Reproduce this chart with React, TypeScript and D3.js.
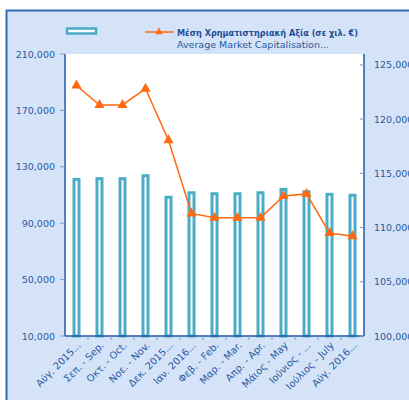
import * as d3 from "d3";
import { useEffect, useRef } from "react";

const categories = [
  "Αύγ. 2015...",
  "Σεπ. - Sep.",
  "Οκτ. - Oct.",
  "Νοε. - Nov.",
  "Δεκ. 2015...",
  "Ιαν. 2016...",
  "Φεβ. - Feb.",
  "Μαρ. - Mar.",
  "Απρ. - Apr.",
  "Μάιος - May",
  "Ιούνιος - ...",
  "Ιούλιος - July",
  "Αύγ. 2016...",
];

// bars, left axis
const barValues = [
  121100, 121600, 121600, 123700, 108400, 111600, 110900, 110900, 111600,
  114000, 112300, 110500, 109800,
];

// line, right axis (thousand €)
const lineValues = [
  123100, 121300, 121300, 122800, 118050, 111300, 110900, 110900, 110900,
  112900, 113100, 109500, 109200,
];

const leftTicks = [10000, 50000, 90000, 130000, 170000, 210000];
const rightTicks = [100000, 105000, 110000, 115000, 120000, 125000];

const FONT = "'DejaVu Sans', Verdana, sans-serif";
const TEXT = "#2a5aa0";
const AXIS = "#1f5aa6";
const BAR = "#4bacc6";
const LINE = "#ff6a10";

const App = () => {
  const svgRef = useRef<SVGSVGElement>(null);

  useEffect(() => {
    const svg = d3.select(svgRef.current);
    svg.selectAll("*").remove();

    const left = 65;
    const right = 364;
    const top = 54;
    const bottom = 336;

    // background + frame
    svg
      .append("rect")
      .attr("x", 6.5)
      .attr("y", 10.5)
      .attr("width", 420)
      .attr("height", 400)
      .attr("fill", "#d4e3f8")
      .attr("stroke", "#2e6db4")
      .attr("stroke-width", 2);

    svg
      .append("rect")
      .attr("x", left)
      .attr("y", top)
      .attr("width", right - left)
      .attr("height", bottom - top)
      .attr("fill", "#ffffff");

    const x = d3
      .scaleBand()
      .domain(categories)
      .range([left, right])
      .paddingInner(0)
      .paddingOuter(0);

    const yL = d3.scaleLinear().domain([10000, 210000]).range([bottom, top]);
    const yR = d3.scaleLinear().domain([100000, 126000]).range([bottom, top]);

    const fmt = d3.format(",");

    // bars
    const bw = 5;
    svg
      .append("g")
      .selectAll("rect")
      .data(barValues)
      .enter()
      .append("rect")
      .attr("x", (d, i) => x(categories[i])! + x.bandwidth() / 2 - bw / 2)
      .attr("y", (d) => yL(d))
      .attr("width", bw)
      .attr("height", (d) => bottom - yL(d))
      .attr("fill", "#ffffff")
      .attr("stroke", BAR)
      .attr("stroke-width", 3);

    // axes lines
    const axes = svg.append("g").attr("stroke", AXIS).attr("stroke-width", 1.5);
    axes.append("line").attr("x1", left).attr("x2", left).attr("y1", top).attr("y2", bottom);
    axes.append("line").attr("x1", right).attr("x2", right).attr("y1", top).attr("y2", bottom);
    axes.append("line").attr("x1", left).attr("x2", right).attr("y1", bottom).attr("y2", bottom);

    // left ticks
    svg
      .append("g")
      .selectAll("line")
      .data(leftTicks)
      .enter()
      .append("line")
      .attr("x1", left - 5)
      .attr("x2", left)
      .attr("y1", (d) => yL(d))
      .attr("y2", (d) => yL(d))
      .attr("stroke", "#7a9cc8");

    svg
      .append("g")
      .selectAll("text")
      .data(leftTicks)
      .enter()
      .append("text")
      .attr("x", 55)
      .attr("y", (d) => yL(d) + 3.5)
      .attr("text-anchor", "end")
      .attr("font-family", FONT)
      .attr("font-size", 9.5)
      .attr("fill", TEXT)
      .text((d) => fmt(d));

    // right ticks
    svg
      .append("g")
      .selectAll("line")
      .data(rightTicks)
      .enter()
      .append("line")
      .attr("x1", right - 4)
      .attr("x2", right)
      .attr("y1", (d) => yR(d))
      .attr("y2", (d) => yR(d))
      .attr("stroke", "#7a9cc8");

    svg
      .append("g")
      .selectAll("text")
      .data(rightTicks)
      .enter()
      .append("text")
      .attr("x", 374)
      .attr("y", (d) => yR(d) + 3.5)
      .attr("font-family", FONT)
      .attr("font-size", 9.5)
      .attr("fill", TEXT)
      .text((d) => fmt(d));

    // bottom ticks
    svg
      .append("g")
      .selectAll("line")
      .data(categories.slice(1))
      .enter()
      .append("line")
      .attr("x1", (d) => x(d)!)
      .attr("x2", (d) => x(d)!)
      .attr("y1", bottom)
      .attr("y2", bottom + 4)
      .attr("stroke", "#7a9cc8");

    // x labels
    svg
      .append("g")
      .selectAll("text")
      .data(categories)
      .enter()
      .append("text")
      .attr("transform", (d) => {
        const cx = x(d)! + x.bandwidth() / 2 + 5;
        return `translate(${cx},${bottom + 10}) rotate(-45)`;
      })
      .attr("text-anchor", "end")
      .attr("font-family", FONT)
      .attr("font-size", 9.8)
      .attr("fill", TEXT)
      .text((d) => d);

    // line series
    const line = d3
      .line<number>()
      .x((d, i) => x(categories[i])! + x.bandwidth() / 2)
      .y((d) => yR(d));

    svg
      .append("path")
      .datum(lineValues)
      .attr("d", line)
      .attr("fill", "none")
      .attr("stroke", LINE)
      .attr("stroke-width", 1.5);

    const tri = d3.symbol().type(d3.symbolTriangle).size(45);
    svg
      .append("g")
      .selectAll("path")
      .data(lineValues)
      .enter()
      .append("path")
      .attr("d", tri)
      .attr(
        "transform",
        (d, i) => `translate(${x(categories[i])! + x.bandwidth() / 2},${yR(d)})`
      )
      .attr("fill", LINE);

    // legend
    svg
      .append("rect")
      .attr("x", 67)
      .attr("y", 28.5)
      .attr("width", 29)
      .attr("height", 5)
      .attr("fill", "#ffffff")
      .attr("stroke", BAR)
      .attr("stroke-width", 2.5);

    svg
      .append("line")
      .attr("x1", 145)
      .attr("x2", 174)
      .attr("y1", 32)
      .attr("y2", 32)
      .attr("stroke", LINE)
      .attr("stroke-width", 1.5);

    svg
      .append("path")
      .attr("d", d3.symbol().type(d3.symbolTriangle).size(25))
      .attr("transform", "translate(159,32)")
      .attr("fill", LINE);

    svg
      .append("text")
      .attr("x", 177)
      .attr("y", 35.5)
      .attr("font-family", FONT)
      .attr("font-size", 9.5)
      .attr("font-weight", "bold")
      .attr("fill", "#1f4f96")
      .attr("textLength", 181)
      .attr("lengthAdjust", "spacingAndGlyphs")
      .text("Μέση Χρηματιστηριακή Αξία (σε χιλ. €)");

    svg
      .append("text")
      .attr("x", 177)
      .attr("y", 47.5)
      .attr("font-family", FONT)
      .attr("font-size", 9.5)
      .attr("fill", TEXT)
      .attr("textLength", 152)
      .attr("lengthAdjust", "spacingAndGlyphs")
      .text("Average Market Capitalisation...");
  }, []);

  return (
    <div style={{ position: "fixed", left: 0, top: 0 }}>
      <svg ref={svgRef} width={409} height={400} style={{ display: "block" }}></svg>
    </div>
  );
};

export default App;
